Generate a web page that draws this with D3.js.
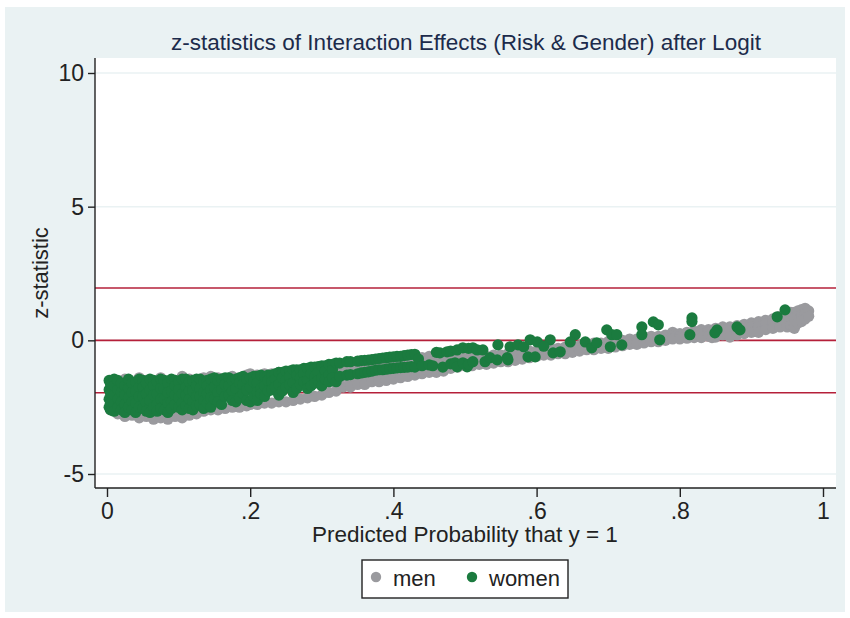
<!DOCTYPE html>
<html>
<head>
<meta charset="utf-8">
<script src="https://cdn.jsdelivr.net/npm/d3@7"></script>
<style>
  html, body { margin: 0; padding: 0; background: #ffffff; }
  svg { display: block; }
  text { font-family: "Liberation Sans", "Noto Sans", sans-serif; }
</style>
</head>
<body>
<svg id="chart" width="850" height="618"></svg>
<script>
// ---------------- data ----------------
const titleText = "z-statistics of Interaction Effects (Risk & Gender) after Logit";
const xTitle = "Predicted Probability that y = 1";
const yTitle = "z-statistic";
const xTickValues = [0, 0.2, 0.4, 0.6, 0.8, 1];
const xTickLabels = ["0", ".2", ".4", ".6", ".8", "1"];
const yTickValues = [-5, 0, 5, 10];
const yTickLabels = ["-5", "0", "5", "10"];
const refLines = [-1.96, 0, 1.96];
const seriesNames = ["men", "women"];

const menPoints = [
  [0.005,-1.5],[0.005,-1.9],[0.005,-2.3],[0.005,-2.6],
  [0.015,-1.6],[0.015,-2.0],[0.015,-2.45],[0.015,-2.75],
  [0.025,-1.45],[0.025,-1.8],[0.025,-2.2],[0.025,-2.85],
  [0.035,-1.55],[0.035,-2.1],[0.035,-2.5],[0.035,-2.8],
  [0.045,-1.4],[0.045,-2.0],[0.045,-2.65],[0.045,-2.9],
  [0.055,-1.5],[0.055,-1.9],[0.055,-2.4],[0.055,-2.85],
  [0.065,-1.6],[0.065,-2.2],[0.065,-2.6],[0.065,-2.95],
  [0.075,-1.4],[0.075,-1.85],[0.075,-2.35],[0.075,-2.9],
  [0.085,-1.55],[0.085,-2.05],[0.085,-2.7],[0.085,-2.95],
  [0.095,-1.5],[0.095,-1.95],[0.095,-2.5],[0.095,-2.85],
  [0.105,-1.35],[0.105,-2.15],[0.105,-2.6],[0.105,-2.9],
  [0.115,-1.45],[0.115,-1.9],[0.115,-2.4],[0.115,-2.8],
  [0.125,-1.5],[0.125,-2.0],[0.125,-2.55],[0.125,-2.75],
  [0.135,-1.4],[0.135,-1.85],[0.135,-2.3],[0.135,-2.65],
  [0.145,-1.35],[0.145,-2.05],[0.145,-2.6],
  [0.155,-1.4],[0.155,-1.8],[0.155,-2.3],[0.155,-2.6],
  [0.165,-1.45],[0.165,-1.95],[0.165,-2.55],
  [0.175,-1.35],[0.175,-1.75],[0.175,-2.2],[0.175,-2.5],
  [0.185,-1.4],[0.185,-1.9],[0.185,-2.5],
  [0.195,-1.3],[0.195,-1.7],[0.195,-2.15],[0.195,-2.45],
  [0.20,-1.25],[0.20,-1.6],[0.20,-2.0],[0.20,-2.4],
  [0.21,-1.3],[0.21,-1.8],[0.21,-2.4],
  [0.22,-1.25],[0.22,-1.55],[0.22,-1.95],[0.22,-2.35],
  [0.23,-1.25],[0.23,-1.7],[0.23,-2.35],
  [0.24,-1.2],[0.24,-1.5],[0.24,-1.9],[0.24,-2.3],
  [0.25,-1.2],[0.25,-1.65],[0.25,-2.3],
  [0.26,-1.15],[0.26,-1.45],[0.26,-1.85],[0.26,-2.25],
  [0.27,-1.15],[0.27,-1.6],[0.27,-2.2],
  [0.28,-1.1],[0.28,-1.4],[0.28,-1.8],[0.28,-2.15],
  [0.29,-1.1],[0.29,-1.5],[0.29,-2.1],
  [0.30,-1.05],[0.30,-1.35],[0.30,-1.7],[0.30,-2.05],
  [0.31,-1.05],[0.31,-1.45],[0.31,-1.95],
  [0.32,-1.0],[0.32,-1.3],[0.32,-1.6],[0.32,-1.9],
  [0.33,-1.0],[0.33,-1.35],[0.33,-1.75],
  [0.34,-0.95],[0.34,-1.2],[0.34,-1.5],[0.34,-1.75],
  [0.35,-0.9],[0.35,-1.3],[0.35,-1.65],
  [0.36,-0.9],[0.36,-1.15],[0.36,-1.45],[0.36,-1.65],
  [0.37,-0.85],[0.37,-1.25],[0.37,-1.55],
  [0.38,-0.85],[0.38,-1.1],[0.38,-1.35],[0.38,-1.55],
  [0.39,-0.8],[0.39,-1.2],[0.39,-1.5],
  [0.40,-0.8],[0.40,-1.05],[0.40,-1.3],[0.40,-1.45],
  [0.41,-0.75],[0.41,-1.15],[0.41,-1.4],
  [0.42,-0.7],[0.42,-1.0],[0.42,-1.25],[0.42,-1.35],
  [0.43,-0.65],[0.43,-1.1],[0.43,-1.3],
  [0.44,-0.65],[0.44,-0.95],[0.44,-1.15],[0.44,-1.25],
  [0.45,-0.6],[0.45,-0.9],[0.45,-1.2],
  [0.46,-0.65],[0.46,-0.85],[0.46,-1.05],[0.46,-1.2],
  [0.47,-0.7],[0.47,-0.95],[0.47,-1.15],
  [0.48,-0.7],[0.48,-0.9],[0.48,-1.05],
  [0.49,-0.7],[0.49,-0.85],[0.49,-1.0],
  [0.50,-0.65],[0.50,-0.8],[0.50,-0.95],
  [0.51,-0.65],[0.51,-0.8],[0.51,-0.95],
  [0.52,-0.6],[0.52,-0.75],[0.52,-0.9],
  [0.53,-0.6],[0.53,-0.75],[0.53,-0.9],
  [0.54,-0.55],[0.54,-0.7],[0.54,-0.85],
  [0.55,-0.55],[0.55,-0.7],[0.55,-0.8],
  [0.56,-0.5],[0.56,-0.65],[0.56,-0.8],
  [0.57,-0.5],[0.57,-0.6],[0.57,-0.75],
  [0.58,-0.45],[0.58,-0.6],[0.58,-0.7],
  [0.59,-0.4],[0.59,-0.5],[0.59,-0.65],
  [0.60,-0.4],[0.60,-0.5],[0.60,-0.6],
  [0.61,-0.35],[0.61,-0.45],[0.61,-0.55],
  [0.62,-0.3],[0.62,-0.45],[0.62,-0.55],
  [0.63,-0.3],[0.63,-0.4],[0.63,-0.5],
  [0.64,-0.25],[0.64,-0.35],[0.64,-0.5],
  [0.65,-0.2],[0.65,-0.3],[0.65,-0.45],
  [0.66,-0.2],[0.66,-0.3],[0.66,-0.4],
  [0.67,-0.15],[0.67,-0.25],[0.67,-0.35],
  [0.68,-0.1],[0.68,-0.25],[0.68,-0.35],
  [0.69,-0.1],[0.69,-0.2],[0.69,-0.3],
  [0.70,-0.05],[0.70,-0.2],[0.70,-0.3],
  [0.71,-0.05],[0.71,-0.15],[0.71,-0.25],
  [0.72,0.0],[0.72,-0.1],[0.72,-0.2],
  [0.73,0.05],[0.73,-0.05],[0.73,-0.15],
  [0.74,0.05],[0.74,-0.05],[0.74,-0.15],
  [0.75,0.1],[0.75,0.0],[0.75,-0.1],
  [0.76,0.15],[0.76,0.05],[0.76,-0.05],
  [0.77,0.15],[0.77,0.05],[0.77,-0.05],
  [0.78,0.2],[0.78,0.1],[0.78,0.0],
  [0.79,0.3],[0.79,0.15],[0.79,0.05],
  [0.80,0.25],[0.80,0.15],[0.80,0.05],
  [0.81,0.3],[0.81,0.2],[0.81,0.08],
  [0.82,0.35],[0.82,0.25],[0.82,0.1],
  [0.83,0.4],[0.83,0.25],[0.83,0.1],
  [0.84,0.4],[0.84,0.3],[0.84,0.15],
  [0.845,0.1],
  [0.85,0.45],[0.85,0.3],[0.85,0.12],
  [0.86,0.5],[0.86,0.35],[0.86,0.2],
  [0.87,0.5],[0.87,0.35],[0.87,0.12],
  [0.88,0.55],[0.88,0.4],[0.88,0.2],
  [0.89,0.6],[0.89,0.45],[0.89,0.25],
  [0.90,0.65],[0.90,0.5],[0.90,0.3],
  [0.91,0.7],[0.91,0.5],[0.91,0.3],
  [0.92,0.75],[0.92,0.6],[0.92,0.4],
  [0.93,0.8],[0.93,0.65],[0.93,0.45],
  [0.94,0.9],[0.94,0.7],[0.94,0.5],
  [0.95,0.95],[0.95,0.75],[0.95,0.5],
  [0.955,1.05],[0.955,0.8],[0.955,0.55],
  [0.96,1.05],[0.96,0.85],[0.96,0.6],[0.96,0.45],
  [0.965,1.1],[0.965,0.9],[0.965,0.65],
  [0.97,1.15],[0.97,0.95],[0.97,0.7],
  [0.975,1.2],[0.975,1.0],[0.975,0.8],
  [0.98,1.1],[0.98,0.9]
];

const womenPoints = [
  [0.003,-1.5],[0.003,-1.85],[0.003,-2.2],[0.003,-2.5],
  [0.005,-1.65],[0.005,-2.0],[0.005,-2.35],[0.005,-2.6],
  [0.01,-1.45],[0.01,-1.7],[0.01,-2.05],[0.01,-2.4],[0.01,-2.65],
  [0.015,-1.5],[0.015,-1.85],[0.015,-2.2],[0.015,-2.5],
  [0.02,-1.6],[0.02,-1.95],[0.02,-2.3],[0.02,-2.6],
  [0.025,-1.7],[0.025,-2.05],[0.025,-2.4],[0.025,-2.7],
  [0.03,-1.45],[0.03,-1.8],[0.03,-2.15],[0.03,-2.5],
  [0.035,-1.6],[0.035,-1.95],[0.035,-2.3],[0.035,-2.6],
  [0.04,-1.55],[0.04,-1.9],[0.04,-2.35],[0.04,-2.7],
  [0.045,-1.45],[0.045,-1.75],[0.045,-2.1],[0.045,-2.5],
  [0.05,-1.5],[0.05,-1.75],[0.05,-2.1],[0.05,-2.55],
  [0.055,-1.6],[0.055,-2.0],[0.055,-2.35],[0.055,-2.65],
  [0.06,-1.45],[0.06,-1.85],[0.06,-2.25],[0.06,-2.7],
  [0.065,-1.5],[0.065,-1.7],[0.065,-2.05],[0.065,-2.5],
  [0.07,-1.55],[0.07,-2.0],[0.07,-2.4],[0.07,-2.65],
  [0.075,-1.45],[0.075,-1.8],[0.075,-2.2],[0.075,-2.55],
  [0.08,-1.5],[0.08,-1.8],[0.08,-2.2],[0.08,-2.6],
  [0.085,-1.6],[0.085,-1.95],[0.085,-2.35],[0.085,-2.7],
  [0.09,-1.45],[0.09,-1.9],[0.09,-2.3],[0.09,-2.55],
  [0.095,-1.5],[0.095,-1.7],[0.095,-2.05],[0.095,-2.4],
  [0.10,-1.55],[0.10,-1.85],[0.10,-2.15],[0.10,-2.5],
  [0.105,-1.45],[0.105,-2.0],[0.105,-2.35],[0.105,-2.6],
  [0.11,-1.45],[0.11,-1.75],[0.11,-2.05],[0.11,-2.45],
  [0.115,-1.55],[0.115,-1.9],[0.115,-2.2],[0.115,-2.55],
  [0.12,-1.5],[0.12,-1.9],[0.12,-2.3],[0.12,-2.6],
  [0.125,-1.45],[0.125,-1.7],[0.125,-2.1],[0.125,-2.45],
  [0.13,-1.45],[0.13,-1.8],[0.13,-2.1],[0.13,-2.4],
  [0.135,-1.55],[0.135,-1.95],[0.135,-2.25],[0.135,-2.55],
  [0.14,-1.5],[0.14,-1.7],[0.14,-2.0],[0.14,-2.35],
  [0.145,-1.45],[0.145,-1.85],[0.145,-2.15],[0.145,-2.5],
  [0.15,-1.4],[0.15,-1.75],[0.15,-2.2],
  [0.155,-1.5],[0.155,-1.95],[0.155,-2.3],
  [0.16,-1.45],[0.16,-1.85],[0.16,-2.4],
  [0.165,-1.4],[0.165,-1.65],[0.165,-2.1],
  [0.17,-1.4],[0.17,-1.7],[0.17,-2.05],
  [0.175,-1.5],[0.175,-1.9],[0.175,-2.25],
  [0.18,-1.45],[0.18,-1.8],[0.18,-2.3],
  [0.185,-1.4],[0.185,-1.6],[0.185,-2.15],
  [0.19,-1.35],[0.19,-1.65],[0.19,-2.0],
  [0.195,-1.45],[0.195,-1.85],[0.195,-2.25],
  [0.20,-1.4],[0.20,-1.75],[0.20,-2.3],
  [0.205,-1.35],[0.205,-1.55],[0.205,-2.1],
  [0.21,-1.35],[0.21,-1.6],[0.21,-1.95],[0.21,-2.25],
  [0.215,-1.3],[0.215,-1.8],[0.215,-2.0],
  [0.22,-1.35],[0.22,-1.7],[0.22,-2.1],
  [0.225,-1.3],[0.225,-1.5],[0.225,-1.9],
  [0.23,-1.3],[0.23,-1.55],[0.23,-1.85],
  [0.235,-1.25],[0.235,-1.45],[0.235,-1.75],
  [0.24,-1.2],[0.24,-1.65],[0.24,-2.05],
  [0.245,-1.2],[0.245,-1.4],[0.245,-1.9],
  [0.25,-1.15],[0.25,-1.5],[0.25,-1.75],
  [0.255,-1.15],[0.255,-1.35],[0.255,-1.65],
  [0.26,-1.1],[0.26,-1.6],[0.26,-1.95],
  [0.265,-1.1],[0.265,-1.3],[0.265,-1.8],
  [0.27,-1.1],[0.27,-1.4],[0.27,-1.65],
  [0.275,-1.05],[0.275,-1.25],[0.275,-1.55],
  [0.28,-1.05],[0.28,-1.5],[0.28,-1.8],
  [0.285,-1.0],[0.285,-1.25],[0.285,-1.7],
  [0.29,-1.0],[0.29,-1.35],[0.29,-1.6],
  [0.295,-0.98],[0.295,-1.2],[0.295,-1.5],
  [0.30,-0.95],[0.30,-1.4],[0.30,-1.7],
  [0.305,-0.95],[0.305,-1.15],[0.305,-1.45],
  [0.31,-0.9],[0.31,-1.3],[0.31,-1.55],
  [0.315,-0.9],[0.315,-1.1],[0.315,-1.4],
  [0.32,-0.85],[0.32,-1.55],
  [0.325,-0.85],[0.325,-1.35],
  [0.335,-0.8],[0.335,-1.3],
  [0.34,-0.8],[0.34,-1.28],
  [0.35,-0.78],[0.35,-1.25],
  [0.355,-0.76],[0.355,-1.22],
  [0.36,-0.75],[0.36,-1.2],
  [0.365,-0.74],[0.365,-1.18],
  [0.37,-0.72],[0.37,-1.15],
  [0.375,-0.7],[0.375,-1.12],
  [0.38,-0.68],[0.38,-1.1],
  [0.385,-0.66],[0.385,-1.1],
  [0.39,-0.65],[0.39,-1.08],
  [0.395,-0.63],[0.395,-1.06],
  [0.40,-0.62],[0.40,-1.05],
  [0.405,-0.6],[0.405,-1.03],
  [0.41,-0.6],[0.41,-1.02],
  [0.415,-0.57],[0.415,-1.01],
  [0.42,-0.55],[0.42,-1.0],
  [0.425,-0.53],[0.425,-0.98],
  [0.43,-0.52],[0.43,-1.0],
  [0.435,-0.7],[0.44,-0.95],[0.45,-0.92],[0.455,-0.95],
  [0.46,-0.45],[0.465,-0.47],[0.469,-1.0],[0.475,-0.43],
  [0.48,-0.4],[0.48,-0.88],
  [0.486,-0.84],[0.489,-0.36],[0.489,-0.99],
  [0.497,-0.28],[0.497,-0.84],[0.503,-0.99],
  [0.505,-0.3],[0.505,-0.9],
  [0.511,-0.28],[0.511,-0.8],
  [0.517,-0.36],[0.525,-0.36],[0.546,-0.17],[0.528,-0.8],
  [0.535,-0.65],[0.545,-0.73],[0.559,-0.65],[0.56,-0.73],
  [0.563,-0.24],[0.574,-0.17],[0.582,-0.24],[0.591,0.02],
  [0.601,-0.06],[0.588,-0.62],[0.598,-0.62],[0.619,0.02],
  [0.61,-0.22],[0.623,-0.47],[0.633,-0.43],[0.654,0.21],
  [0.647,-0.06],[0.668,-0.06],[0.677,-0.28],[0.684,-0.09],
  [0.698,0.39],[0.705,0.21],[0.712,0.21],[0.719,-0.17],
  [0.703,-0.24],[0.747,0.5],[0.747,0.21],[0.763,0.69],
  [0.77,0.58],[0.772,0.02],[0.817,0.84],[0.817,0.7],
  [0.814,0.21],[0.852,0.39],[0.849,0.28],[0.88,0.5],
  [0.884,0.39],[0.936,0.88],[0.947,1.14]
];

// ---------------- layout ----------------
const svg = d3.select("#chart");
const W = 850, H = 618;
const plot = { left: 95, right: 836, top: 58, bottom: 488 };

const x = d3.scaleLinear().domain([0, 1]).range([107, 823]);
const y = d3.scaleLinear().domain([-5, 10]).range([474, 73]);

const bgColor = "#eaf2f3";
const gridColor = "#eaf2f3";
const refColor = "#b5203a";
const menColor = "#9a9a9e";
const womenColor = "#1b7b3f";
const titleColor = "#1c2b4b";
const textColor = "#222222";
const fontSize = 23;

// outer background
svg.append("rect").attr("x", 0).attr("y", 0).attr("width", W).attr("height", H).attr("fill", "#ffffff");
svg.append("rect").attr("x", 5).attr("y", 7).attr("width", 840).attr("height", 605).attr("fill", bgColor);

// plot region
svg.append("rect")
  .attr("x", plot.left).attr("y", plot.top)
  .attr("width", plot.right - plot.left).attr("height", plot.bottom - plot.top)
  .attr("fill", "#ffffff");

// gridlines
svg.append("g").selectAll("line").data(yTickValues).join("line")
  .attr("x1", plot.left).attr("x2", plot.right)
  .attr("y1", d => y(d)).attr("y2", d => y(d))
  .attr("stroke", gridColor).attr("stroke-width", 1.5);

// reference lines
svg.append("g").selectAll("line").data(refLines).join("line")
  .attr("x1", plot.left).attr("x2", plot.right)
  .attr("y1", d => y(d)).attr("y2", d => y(d))
  .attr("stroke", refColor).attr("stroke-width", 1.6);

// points
const seriesData = [
  { name: seriesNames[0], color: menColor, pts: menPoints },
  { name: seriesNames[1], color: womenColor, pts: womenPoints }
];
seriesData.forEach(s => {
  svg.append("g").selectAll("circle").data(s.pts).join("circle")
    .attr("cx", d => x(d[0])).attr("cy", d => y(d[1]))
    .attr("r", 5.6).attr("fill", s.color);
});

// axes
const yAxis = d3.axisLeft(y).tickValues(yTickValues)
  .tickFormat((d, i) => yTickLabels[i]).tickSize(7).tickPadding(4);
const gy = svg.append("g").attr("transform", `translate(${plot.left},0)`).call(yAxis);
gy.select(".domain").attr("d", `M0,${plot.top}V${plot.bottom}`).attr("stroke", "#222").attr("stroke-width", 1.4);
gy.selectAll(".tick line").attr("stroke", "#222").attr("stroke-width", 1.4);
gy.selectAll(".tick text").attr("font-size", fontSize).attr("fill", textColor)
  .attr("font-family", "Liberation Sans, sans-serif");

const xAxis = d3.axisBottom(x).tickValues(xTickValues)
  .tickFormat((d, i) => xTickLabels[i]).tickSize(9).tickPadding(6);
const gx = svg.append("g").attr("transform", `translate(0,${plot.bottom})`).call(xAxis);
gx.select(".domain").attr("d", `M${plot.left},0H${plot.right}`).attr("stroke", "#222").attr("stroke-width", 1.4);
gx.selectAll(".tick line").attr("stroke", "#222").attr("stroke-width", 1.4);
gx.selectAll(".tick text").attr("font-size", fontSize).attr("fill", textColor)
  .attr("font-family", "Liberation Sans, sans-serif");

// titles
svg.append("text").attr("x", 466).attr("y", 50).attr("text-anchor", "middle")
  .attr("font-size", 22.5).attr("fill", titleColor).text(titleText);
svg.append("text").attr("x", 465).attr("y", 542).attr("text-anchor", "middle")
  .attr("font-size", 22.5).attr("fill", textColor).text(xTitle);
svg.append("text").attr("transform", "translate(48,273) rotate(-90)").attr("text-anchor", "middle")
  .attr("font-size", 22).attr("fill", textColor).text(yTitle);

// legend
const lg = svg.append("g");
lg.append("rect").attr("x", 362).attr("y", 560).attr("width", 206).attr("height", 38)
  .attr("fill", "#ffffff").attr("stroke", "#222").attr("stroke-width", 1.4);
const legendItems = [
  { name: seriesNames[0], color: menColor, cx: 376, tx: 393 },
  { name: seriesNames[1], color: womenColor, cx: 472, tx: 489 }
];
legendItems.forEach(it => {
  lg.append("circle").attr("cx", it.cx).attr("cy", 577).attr("r", 5.2).attr("fill", it.color);
  lg.append("text").attr("x", it.tx).attr("y", 586).attr("font-size", 22).attr("fill", textColor).text(it.name);
});
</script>
</body>
</html>
